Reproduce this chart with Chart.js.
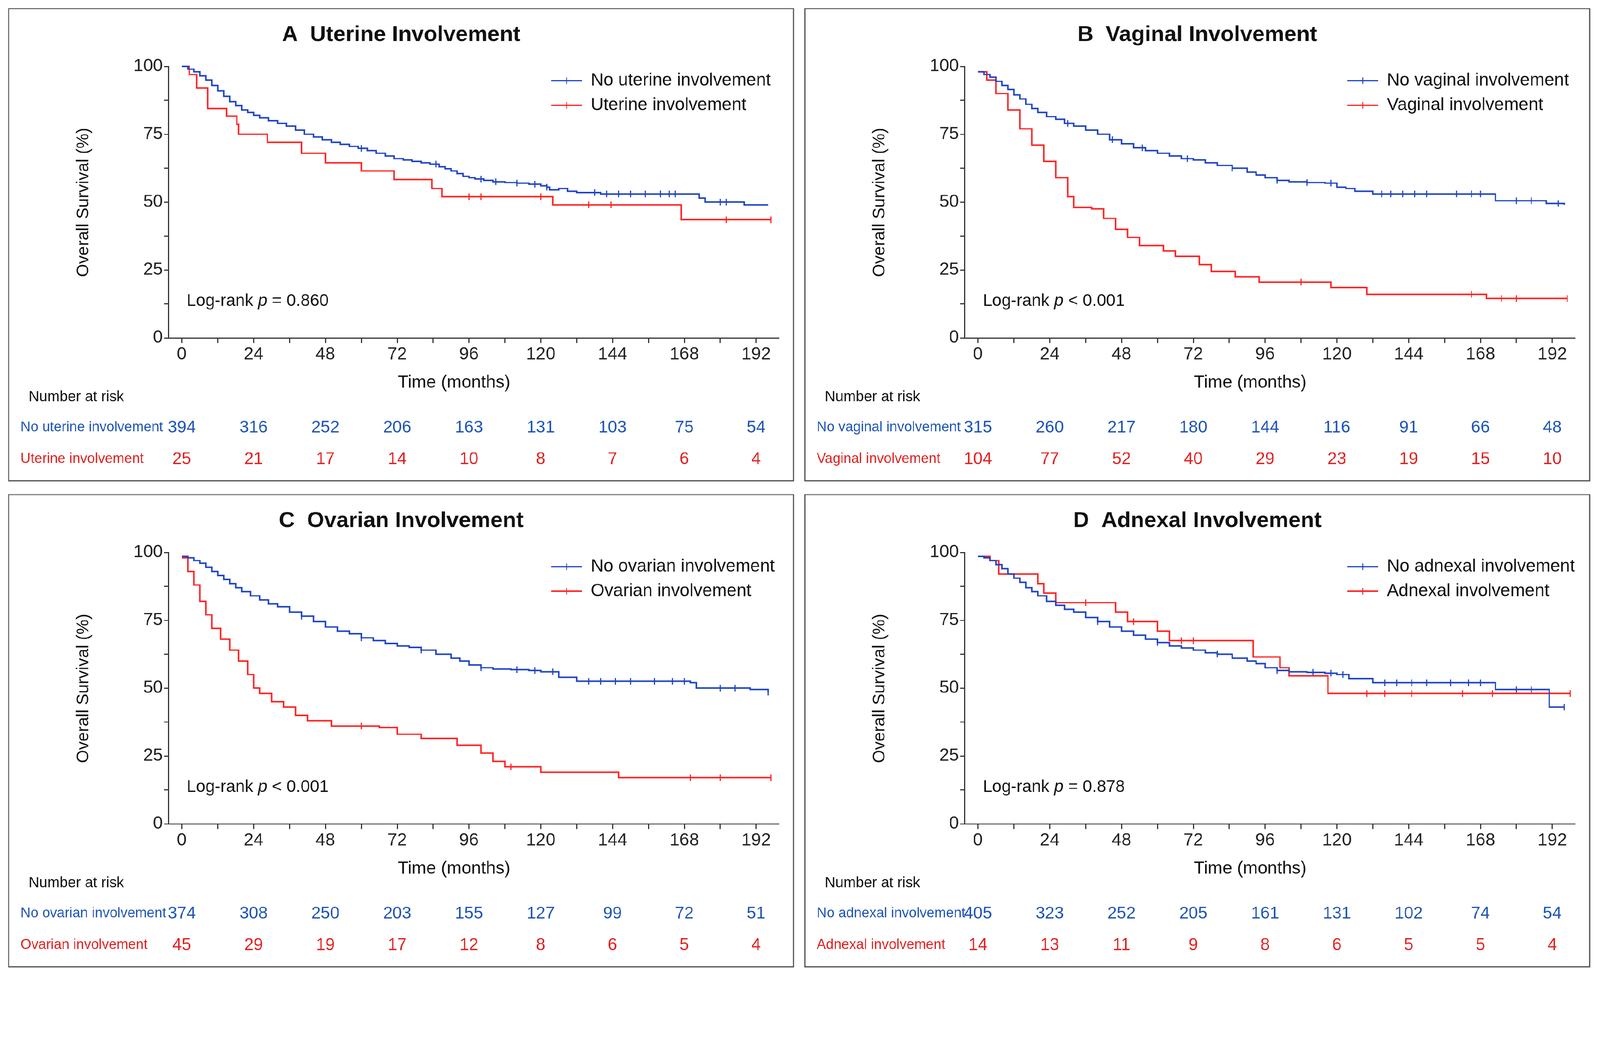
<!DOCTYPE html>
<html>
<head>
<meta charset="utf-8">
<script src="https://cdn.jsdelivr.net/npm/chart.js@4"></script>
<style>
  html, body { margin: 0; background: #fff; overflow: hidden; }
  #wrap { position: absolute; left: 0; top: 0; width: 4363px; height: 2667px; transform-origin: 0 0; }
  .panel { position: absolute; width: 2137px; height: 1284px; border: 3px solid #444; }
  canvas { display: block; }
</style>
</head>
<body>
<div id="wrap">
<div class="panel" style="left:22px;top:22px"><canvas id="pA" width="2137" height="1284"></canvas></div>
<div class="panel" style="left:2193px;top:22px"><canvas id="pB" width="2137" height="1284"></canvas></div>
<div class="panel" style="left:22px;top:1347px"><canvas id="pC" width="2137" height="1284"></canvas></div>
<div class="panel" style="left:2193px;top:1347px"><canvas id="pD" width="2137" height="1284"></canvas></div>
</div>
<script>
const BLUE = '#1f45c4';
const RED = '#ff2222';
const riskTimes = [0, 24, 48, 72, 96, 120, 144, 168, 192];

// A - uterine
const aNoT = [0, 2, 4, 6, 8, 10, 12, 14, 16, 18, 20, 22, 24, 26, 29, 32, 35, 38, 41, 44, 47, 50, 53, 56, 59, 62, 65, 68, 71, 74, 77, 80, 83, 86, 88, 90, 92, 94, 96, 98, 101, 104, 108, 112, 116, 120, 122, 123, 126, 129, 132, 140, 171, 173, 175, 188, 196];
const aNoS = [100, 99, 98, 96.5, 95, 93, 91, 89, 87, 85.5, 84, 83, 82, 81, 80, 79, 78, 76.5, 75, 74, 73, 72, 71.3, 70.5, 69.8, 69, 68, 67, 66, 65.5, 65, 64.5, 64, 63, 62.3, 61.5, 60.5, 59.5, 59, 58.5, 58, 57.5, 57.2, 57, 56.6, 56, 55.5, 54.5, 55, 54, 53.5, 53, 53, 51.5, 50, 49, 49];
const aNoCens = [60, 85, 100, 105, 112, 118, 122, 138, 142, 146, 150, 155, 160, 163, 165, 180, 182];
const aYesT = [0, 2.5, 5, 8.7, 15, 18.4, 19, 28.6, 40, 48, 60, 71, 83.6, 87, 124, 167, 197];
const aYesS = [100, 97, 92, 84.5, 81.7, 78.6, 75, 72, 68, 64.5, 61.5, 58.3, 55, 52, 49, 43.5, 43.5];
const aYesCens = [96, 100, 120, 136, 143.5, 182, 197];
const aRiskNo = [394, 316, 252, 206, 163, 131, 103, 75, 54];
const aRiskYes = [25, 21, 17, 14, 10, 8, 7, 6, 4];

// B - vaginal
const bNoT = [0, 2, 4, 6, 8, 10, 12, 14, 16, 18, 20, 23, 26, 29, 32, 36, 40, 44, 48, 52, 56, 60, 64, 68, 72, 76, 80, 85, 90, 93, 96, 100, 104, 110, 116, 120, 123, 126, 132, 171, 173, 190, 196];
const bNoS = [98, 97, 96, 94.5, 93, 91.5, 89.5, 88, 86, 84.5, 83, 81.5, 80.5, 79, 78, 76.5, 75, 73, 71.5, 70, 69, 68, 67, 66, 65.5, 64.5, 63.5, 62.5, 61, 60, 59, 58, 57.5, 57.2, 57, 55.5, 55, 54, 53, 53, 50.5, 49.5, 49];
const bNoCens = [30, 45, 55, 70, 85, 100, 110, 118, 135, 138, 142, 146, 150, 160, 165, 168, 180, 185, 194];
const bYesT = [0, 3, 6, 10, 14, 18, 22, 26, 30, 32, 38, 42, 46, 50, 54, 62, 66, 74, 78, 86, 94, 118, 130, 170, 197];
const bYesS = [98, 95, 90, 84, 77, 71, 65, 59, 52, 48, 47.5, 44, 40, 37, 34, 32, 30, 27, 24.5, 22.5, 20.5, 18.5, 16, 14.5, 14.5];
const bYesCens = [108, 165, 175, 180, 197];
const bRiskNo = [315, 260, 217, 180, 144, 116, 91, 66, 48];
const bRiskYes = [104, 77, 52, 40, 29, 23, 19, 15, 10];

// C - ovarian
const cNoT = [0, 2, 4, 6, 8, 10, 12, 14, 16, 18, 20, 23, 26, 29, 32, 36, 40, 44, 48, 52, 56, 60, 64, 68, 72, 76, 80, 85, 90, 93, 96, 100, 104, 110, 116, 120, 126, 132, 170, 172, 190, 196];
const cNoS = [98.5, 98, 97, 96, 94.5, 93, 91.5, 90, 88.5, 87, 85.5, 84, 82.5, 81, 80, 78, 76.5, 74.5, 72.5, 71, 70, 68.5, 67.5, 66.5, 65.5, 65, 64, 62.5, 61, 60, 58.5, 57.5, 57, 56.8, 56.5, 56, 54, 52.5, 52, 50, 49.5, 48.5];
const cNoCens = [40, 60, 80, 100, 112, 118, 124, 136, 140, 145, 150, 158, 164, 168, 180, 185, 196];
const cYesT = [0, 2, 4, 6, 8, 10, 13, 16, 19, 22, 24, 26, 30, 34, 38, 42, 50, 66, 72, 80, 92, 100, 104, 108, 120, 146, 197];
const cYesS = [98, 93, 88, 82, 77, 72, 68, 64, 60, 55, 50, 48, 45, 43, 40, 38, 36, 35.5, 33, 31.5, 29, 26, 23, 21, 19, 17, 17];
const cYesCens = [60, 110, 170, 180, 197];
const cRiskNo = [374, 308, 250, 203, 155, 127, 99, 72, 51];
const cRiskYes = [45, 29, 19, 17, 12, 8, 6, 5, 4];

// D - adnexal
const dNoT = [0, 2, 4, 6, 8, 10, 12, 14, 16, 18, 20, 23, 26, 29, 32, 36, 40, 44, 48, 52, 56, 60, 64, 68, 72, 76, 80, 85, 90, 93, 96, 100, 104, 110, 116, 120, 124, 132, 170, 173, 190, 191, 196];
const dNoS = [98.5, 98, 97, 95.5, 94, 92, 90.5, 89, 87, 85.5, 84, 82, 80.5, 79, 78, 76, 74.5, 72.5, 71, 69.5, 68, 66.8, 65.5, 64.8, 64, 63, 62.5, 61, 60, 59, 57.5, 56.5, 56, 55.8, 55.5, 55, 53.5, 52, 52, 49.5, 49.5, 43, 43];
const dNoCens = [40, 60, 80, 100, 112, 118, 122, 136, 140, 145, 150, 158, 164, 168, 180, 185, 196];
const dYesT = [0, 4, 7, 20, 22, 26, 46, 50, 60, 64, 92, 101, 104, 117, 198];
const dYesS = [98.5, 97, 92, 88.5, 85, 81.5, 78, 74.5, 71, 67.5, 61.5, 57.5, 54.5, 48, 48];
const dYesCens = [36, 52, 68, 72, 130, 136, 145, 162, 172, 198];
const dRiskNo = [405, 323, 252, 205, 161, 131, 102, 74, 54];
const dRiskYes = [14, 13, 11, 9, 8, 6, 5, 5, 4];

// fit the 4363px layout to whatever the viewport really is
document.getElementById('wrap').style.transform = 'scale(' + (window.innerWidth / 4363) + ')';

const NARROW = '"Liberation Sans Narrow", "Liberation Sans", Arial, sans-serif';
const SANS = '"Liberation Sans", Arial, sans-serif';

function stepAt(ts, ss, t) {
  let v = ss[0];
  for (let i = 0; i < ts.length; i++) if (ts[i] <= t) v = ss[i];
  return v;
}

function makePanel(id, cfg) {
  const curve = (ts, ss, color) => ({
    data: ts.map((t, i) => ({ x: t, y: ss[i] })),
    borderColor: color, borderWidth: 4, stepped: true, pointRadius: 0, fill: false, clip: false
  });
  const cens = (cs, ts, ss, color) => ({
    type: 'scatter',
    data: cs.map(t => ({ x: t, y: stepAt(ts, ss, t) })),
    pointStyle: 'line', rotation: 90, pointRadius: 9, borderColor: color, borderWidth: 3, clip: false
  });

  const textPlugin = {
    id: 'texts',
    afterDraw(chart) {
      const ctx = chart.ctx;
      const x = chart.scales.x;
      ctx.save();
      ctx.fillStyle = '#111';
      ctx.textAlign = 'center';
      ctx.textBaseline = 'middle';
      ctx.font = 'bold 60px ' + NARROW;
      ctx.fillText(cfg.title, 1069, 70);
      ctx.font = '48px ' + NARROW;
      ctx.fillText('Time (months)', 1213, 1019);
      ctx.save();
      ctx.translate(203, 527);
      ctx.rotate(-Math.PI / 2);
      ctx.font = '46px ' + SANS;
      ctx.fillText('Overall Survival (%)', 0, 0);
      ctx.restore();
      // log-rank
      ctx.textAlign = 'left';
      ctx.font = '46px ' + NARROW;
      const pre = 'Log-rank ';
      ctx.fillText(pre, 484, 796);
      let px = 484 + ctx.measureText(pre).width;
      ctx.font = 'italic 46px ' + NARROW;
      ctx.fillText('p', px, 796);
      px += ctx.measureText('p ').width;
      ctx.font = '46px ' + NARROW;
      ctx.fillText(cfg.p, px, 796);
      // legend
      ctx.font = '48px ' + NARROW;
      [[BLUE, cfg.names[0], 195], [RED, cfg.names[1], 262]].forEach(([c, n, y]) => {
        ctx.strokeStyle = c; ctx.lineWidth = 4;
        ctx.beginPath(); ctx.moveTo(1478, y); ctx.lineTo(1562, y); ctx.stroke();
        ctx.lineWidth = 3;
        ctx.beginPath(); ctx.moveTo(1520, y - 9); ctx.lineTo(1520, y + 9); ctx.stroke();
        ctx.fillStyle = '#111';
        ctx.fillText(n, 1586, y);
      });
      // risk table
      ctx.font = '40px ' + NARROW;
      ctx.fillStyle = '#111';
      ctx.fillText('Number at risk', 53, 1058);
      ctx.font = '38px ' + NARROW;
      ctx.fillStyle = '#1f55b5';
      ctx.fillText(cfg.names[0], 31, 1141);
      ctx.fillStyle = '#e02020';
      ctx.fillText(cfg.names[1], 31, 1227);
      ctx.textAlign = 'center';
      ctx.font = '46px ' + NARROW;
      riskTimes.forEach((t, i) => {
        const xp = x.getPixelForValue(t);
        ctx.fillStyle = '#1f55b5';
        ctx.fillText(String(cfg.riskNo[i]), xp, 1141);
        ctx.fillStyle = '#e02020';
        ctx.fillText(String(cfg.riskYes[i]), xp, 1227);
      });
      ctx.restore();
    }
  };

  const tickFont = { size: 48, family: NARROW };
  new Chart(document.getElementById(id), {
    type: 'line',
    data: {
      datasets: [
        curve(cfg.noT, cfg.noS, BLUE),
        curve(cfg.yesT, cfg.yesS, RED),
        cens(cfg.noC, cfg.noT, cfg.noS, BLUE),
        cens(cfg.yesC, cfg.yesT, cfg.yesS, RED)
      ]
    },
    options: {
      responsive: false,
      animation: false,
      devicePixelRatio: 1,
      layout: { padding: { left: 234, right: 39, top: 156, bottom: 238 } },
      plugins: { legend: { display: false }, tooltip: { enabled: false } },
      scales: {
        x: {
          type: 'linear', min: -4.5, max: 199.5,
          afterBuildTicks: s => { s.ticks = [0, 12, 24, 36, 48, 60, 72, 84, 96, 108, 120, 132, 144, 156, 168, 180, 192].map(v => ({ value: v })); },
          afterFit: s => { s.height = 150; },
          ticks: { callback: v => (v % 24 === 0 ? v : ''), font: tickFont, color: '#222', maxRotation: 0, autoSkip: false },
          grid: { drawOnChartArea: false, drawTicks: true, tickLength: 14, color: '#333', lineWidth: 3 },
          border: { display: true, color: '#333', width: 3 }
        },
        y: {
          min: 0, max: 100,
          afterBuildTicks: s => { s.ticks = [0, 12.5, 25, 37.5, 50, 62.5, 75, 87.5, 100].map(v => ({ value: v })); },
          afterFit: s => { s.width = 200; },
          ticks: { callback: v => (v % 25 === 0 ? v : ''), font: tickFont, color: '#222', autoSkip: false },
          grid: { drawOnChartArea: false, drawTicks: true, tickLength: 12, color: '#333', lineWidth: 3 },
          border: { display: true, color: '#333', width: 3 }
        }
      }
    },
    plugins: [textPlugin]
  });
}

makePanel('pA', { title: 'A  Uterine Involvement', p: '= 0.860', names: ['No uterine involvement', 'Uterine involvement'],
  noT: aNoT, noS: aNoS, noC: aNoCens, yesT: aYesT, yesS: aYesS, yesC: aYesCens, riskNo: aRiskNo, riskYes: aRiskYes });
makePanel('pB', { title: 'B  Vaginal Involvement', p: '< 0.001', names: ['No vaginal involvement', 'Vaginal involvement'],
  noT: bNoT, noS: bNoS, noC: bNoCens, yesT: bYesT, yesS: bYesS, yesC: bYesCens, riskNo: bRiskNo, riskYes: bRiskYes });
makePanel('pC', { title: 'C  Ovarian Involvement', p: '< 0.001', names: ['No ovarian involvement', 'Ovarian involvement'],
  noT: cNoT, noS: cNoS, noC: cNoCens, yesT: cYesT, yesS: cYesS, yesC: cYesCens, riskNo: cRiskNo, riskYes: cRiskYes });
makePanel('pD', { title: 'D  Adnexal Involvement', p: '= 0.878', names: ['No adnexal involvement', 'Adnexal involvement'],
  noT: dNoT, noS: dNoS, noC: dNoCens, yesT: dYesT, yesS: dYesS, yesC: dYesCens, riskNo: dRiskNo, riskYes: dRiskYes });
</script>
</body>
</html>
